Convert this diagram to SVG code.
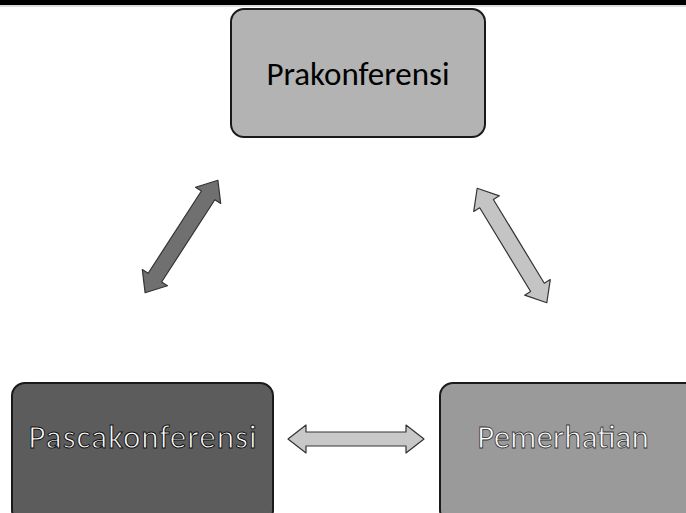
<svg xmlns="http://www.w3.org/2000/svg" width="686" height="513" viewBox="0 0 686 513">
<style>
.box{stroke:#1a1a1a;stroke-width:2}
.lbl{font-family:Carlito,"Open Sans","Liberation Sans",sans-serif;font-size:33px;text-anchor:middle;dominant-baseline:central}
.arr{stroke:#333;stroke-width:1.2;stroke-linejoin:round}
</style>
<rect x="0" y="0" width="686" height="5" fill="#000"/>
<line x1="0" y1="6" x2="686" y2="6" stroke="#bbb" stroke-width="1"/>
<g id="node-prakonferensi">
<rect class="box" x="231" y="9" width="254" height="128" rx="13" fill="#b3b3b3"/>
<text class="lbl" x="358" y="74" fill="#000">Prakonferensi</text>
</g>
<g id="node-pascakonferensi">
<rect class="box" x="12" y="383" width="261" height="140" rx="13" fill="#5c5c5c"/>
<text class="lbl" x="143" y="437" fill="#fff" stroke="#111" stroke-width="1" letter-spacing="1">Pascakonferensi</text>
</g>
<g id="node-pemerhatian">
<rect class="box" x="440" y="383" width="260" height="140" rx="13" fill="#9a9a9a"/>
<text class="lbl" x="563" y="437" fill="#fff" stroke="#333" stroke-width="0.8">Pemerhatian</text>
</g>
<g id="connectors">
<g transform="translate(181.5,236.5) rotate(122.9)">
<polygon class="arr" fill="#707070" points="-67,0 -49,-15 -49,-8 49,-8 49,-15 67,0 49,15 49,8 -49,8 -49,15"/>
</g>
<g transform="translate(512,245.5) rotate(58.7)">
<polygon class="arr" fill="#c4c4c4" stroke="#555" points="-67,0 -49,-15 -49,-8 49,-8 49,-15 67,0 49,15 49,8 -49,8 -49,15"/>
</g>
<polygon class="arr" fill="#c8c8c8" points="288,439 306,425 306,432 406,432 406,425 424,439 406,453 406,446 306,446 306,453"/>
</g>
</svg>
